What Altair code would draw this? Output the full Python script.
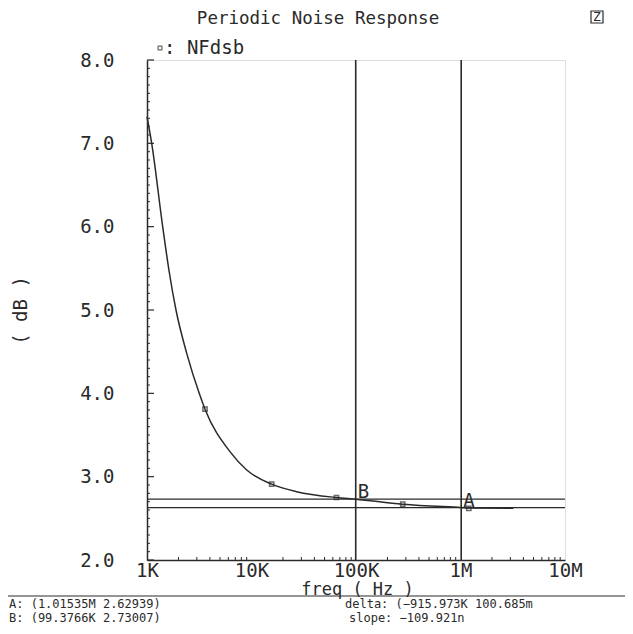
import altair as alt
import pandas as pd

# ---- data ----
freq = [1000, 1109, 1413, 1635, 1894, 2400, 3160, 3590, 6220, 9000, 15600,
        27000, 65000, 99400, 280000, 1015350, 1200000, 3200000]
nf_db = [7.32, 7.0, 6.0, 5.45, 5.0, 4.48, 4.0, 3.81, 3.30, 3.08, 2.91,
         2.82, 2.75, 2.73, 2.67, 2.63, 2.625, 2.62]

marker_freq = [3590, 15600, 65000, 280000, 1200000]
marker_db = [3.81, 2.91, 2.75, 2.67, 2.62]

cursor_names = ["B", "A"]
cursor_freq = [99376.6, 1015350]
cursor_db = [2.73007, 2.62939]

x_major = [1e3, 1e4, 1e5, 1e6, 1e7]
y_major = [2, 3, 4, 5, 6, 7, 8]

readout_left = ["A: (1.01535M 2.62939)", "B: (99.3766K 2.73007)"]
readout_right = ["delta: (\u2212915.973K 100.685m", "slope: \u2212109.921n"]

title_text = "Periodic Noise Response"
legend_text = ": NFdsb"

FONT = "DejaVu Sans Mono"
INK = "#2a2a2a"
W, H = 418, 500
TOTAL_W, TOTAL_H = 617, 618

# tick helper tables (axis decoration only)
y_minor = [round(2 + i * 0.1, 1) for i in range(61) if i % 10 != 0]
x_minor = [m * 10 ** d for d in range(3, 7) for m in range(2, 10)]

xs = alt.Scale(type="log", domain=[1e3, 1e7])
ys = alt.Scale(domain=[2, 8])

curve_df = pd.DataFrame({"f": freq, "db": nf_db})
marker_df = pd.DataFrame({"f": marker_freq, "db": marker_db})
cursor_df = pd.DataFrame({"name": cursor_names, "f": cursor_freq, "db": cursor_db})

x_enc = alt.X("f:Q", scale=xs, axis=alt.Axis(
    values=x_major, ticks=False, grid=False, domainColor=INK, domainWidth=1.5,
    labelExpr="datum.value >= 1e6 ? format(datum.value/1e6,'d') + 'M' : format(datum.value/1e3,'d') + 'K'",
    labelFont=FONT, labelFontSize=19, labelColor=INK, labelPadding=1, labelFlush=False,
    labelOverlap=False,
    title="freq ( Hz )", titleFont=FONT, titleFontSize=17, titleFontWeight="normal",
    titleColor=INK, titleX=210, titleY=29.5, titleAlign="center", titleBaseline="middle"))
y_enc = alt.Y("db:Q", scale=ys, axis=alt.Axis(
    values=y_major, ticks=False, grid=False, domainColor=INK, domainWidth=1.5,
    format=".1f", labelFont=FONT, labelFontSize=19, labelColor=INK, labelPadding=33,
    labelFlush=False, labelOverlap=False,
    title="( dB )", titleFont=FONT, titleFontSize=19, titleFontWeight="normal",
    titleColor=INK, titleX=-127, titleY=250, titleAngle=270, titleAlign="center",
    titleBaseline="middle"))

curve = alt.Chart(curve_df).mark_line(
    interpolate="monotone", color=INK, strokeWidth=1.5
).encode(x=x_enc, y=y_enc)

markers = alt.Chart(marker_df).mark_point(
    shape="square", size=18, filled=False, color=INK, strokeWidth=1.5
).encode(x=alt.X("f:Q", scale=xs), y=alt.Y("db:Q", scale=ys))

vcursor = alt.Chart(cursor_df).mark_rule(color=INK, strokeWidth=1.6).encode(
    x=alt.X("f:Q", scale=xs))
hcursor = alt.Chart(cursor_df).mark_rule(color=INK, strokeWidth=1.2).encode(
    y=alt.Y("db:Q", scale=ys))
clabels = alt.Chart(cursor_df).mark_text(
    font=FONT, fontSize=19, color=INK, align="left", baseline="alphabetic", dx=2, dy=-1
).encode(x=alt.X("f:Q", scale=xs), y=alt.Y("db:Q", scale=ys), text="name:N")

ytick_major = alt.Chart(pd.DataFrame({"v": y_major})).mark_rule(color=INK, strokeWidth=1.2).encode(
    y=alt.Y("v:Q", scale=ys), x=alt.value(0), x2=alt.value(7))
ytick_minor = alt.Chart(pd.DataFrame({"v": y_minor})).mark_rule(color=INK, strokeWidth=1).encode(
    y=alt.Y("v:Q", scale=ys), x=alt.value(0), x2=alt.value(3))
xtick_minor = alt.Chart(pd.DataFrame({"v": x_minor})).mark_rule(color=INK, strokeWidth=1).encode(
    x=alt.X("v:Q", scale=xs), y=alt.value(H), y2=alt.value(H - 3))

one = pd.DataFrame({"k": [0]})


def label(txt, x, y, size=19, align="left"):
    return alt.Chart(one).mark_text(
        text=txt, font=FONT, fontSize=size, color=INK, align=align, baseline="middle"
    ).encode(x=alt.value(x), y=alt.value(y))


title = label(title_text, 171, -41, size=17.5, align="center")
legend_box = alt.Chart(one).mark_point(
    shape="square", size=14, filled=False, color=INK, strokeWidth=1.2
).encode(x=alt.value(13), y=alt.value(-12))
legend_lbl = label(legend_text, 17, -12)
zicon = label("Z", 450, -43, size=13, align="center")
zbox = alt.Chart(one).mark_rect(fill="white", fillOpacity=0, stroke=INK, strokeWidth=1.2).encode(
    x=alt.value(444), x2=alt.value(456), y=alt.value(-49), y2=alt.value(-37))

sep = alt.Chart(one).mark_rule(color=INK, strokeWidth=1.2).encode(
    x=alt.value(-147), x2=alt.value(486), y=alt.value(536))
rA = label(readout_left[0], -138, 544, size=12)
rB = label(readout_left[1], -138, 558, size=12)
rD = label(readout_right[0], 198, 544, size=12)
rS = label(readout_right[1], 202, 558, size=12)

chart = alt.layer(
    curve, markers, vcursor, hcursor, clabels, ytick_major, ytick_minor, xtick_minor,
    title, legend_box, legend_lbl, zicon, zbox, sep, rA, rB, rD, rS
).properties(
    width=W, height=H,
    autosize=alt.AutoSizeParams(type="none"),
    padding={"left": 139, "top": 52, "right": TOTAL_W - 139 - W, "bottom": TOTAL_H - 52 - H},
).configure_view(stroke=None).configure(background="white")

chart.save("out.html", embed_options={"renderer": "svg", "actions": False})
